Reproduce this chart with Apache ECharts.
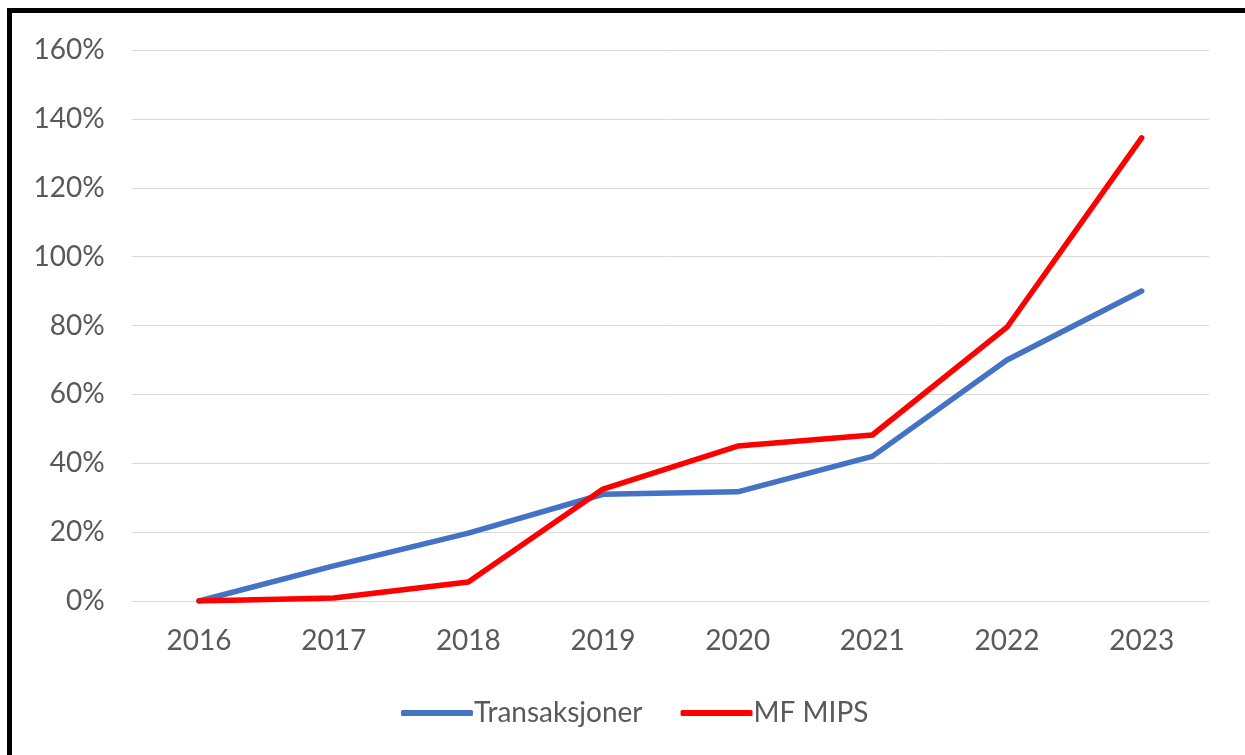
<!DOCTYPE html>
<html>
<head>
<meta charset="utf-8">
<script src="https://cdn.jsdelivr.net/npm/echarts@6/dist/echarts.min.js"></script>
<style>
  html, body { margin: 0; padding: 0; background: #fff; }
  .frame {
    position: absolute;
    left: 7px;
    top: 8px;
    width: 1300px;
    height: 800px;
    border-left: 5px solid #000;
    border-top: 5px solid #000;
  }
  #chart {
    position: absolute;
    left: 0;
    top: 0;
    width: 1245px;
    height: 755px;
  }
</style>
</head>
<body>
<div class="frame"></div>
<div id="chart"></div>
<script>
// years on the x axis
var years = ['2016', '2017', '2018', '2019', '2020', '2021', '2022', '2023']
// growth since 2016, as fractions
var transaksjoner = [0, 0.102, 0.197, 0.31, 0.317, 0.42, 0.70, 0.90]
var mfMips = [0, 0.009, 0.055, 0.325, 0.45, 0.482, 0.795, 1.345]
var seriesNames = ['Transaksjoner', 'MF MIPS']

var textColor = '#595959'
var font = 'Lato, "Open Sans", sans-serif'

var myChart = echarts.init(document.getElementById('chart'))

function lineSeries (name, data, color) {
  return {
    name: name,
    type: 'line',
    data: data,
    symbol: 'none',
    showSymbol: false,
    smooth: false,
    itemStyle: { color: color },
    lineStyle: { color: color, width: 5.5, cap: 'round', join: 'round' }
  }
}

var option = {
  backgroundColor: 'transparent',
  animation: false,
  textStyle: { fontFamily: font },
  grid: {
    left: 131.7,
    right: 36,
    top: 50,
    bottom: 154,
    containLabel: false
  },
  legend: {
    data: seriesNames,
    left: 396,
    top: 694,
    itemWidth: 72,
    itemHeight: 6,
    itemGap: 38,
    textStyle: { color: textColor, fontSize: 28, fontFamily: font, padding: [0, 0, 0, -4] },
    icon: 'roundRect'
  },
  xAxis: {
    type: 'category',
    data: years,
    boundaryGap: true,
    axisLine: { show: true, lineStyle: { color: '#d9d9d9', width: 1 } },
    axisTick: { show: false },
    axisLabel: { color: textColor, fontSize: 28, margin: 26, fontFamily: font }
  },
  yAxis: {
    type: 'value',
    min: 0,
    max: 1.6,
    interval: 0.2,
    axisLine: { show: false },
    axisTick: { show: false },
    splitLine: { lineStyle: { color: '#d9d9d9', width: 1 } },
    axisLabel: {
      color: textColor,
      fontSize: 28,
      margin: 27,
      fontFamily: font,
      formatter: function (v) { return Math.round(v * 100) + '%' }
    }
  },
  series: [
    lineSeries(seriesNames[0], transaksjoner, '#4472C4'),
    lineSeries(seriesNames[1], mfMips, '#FF0000')
  ]
}
myChart.setOption(option)
</script>
</body>
</html>
